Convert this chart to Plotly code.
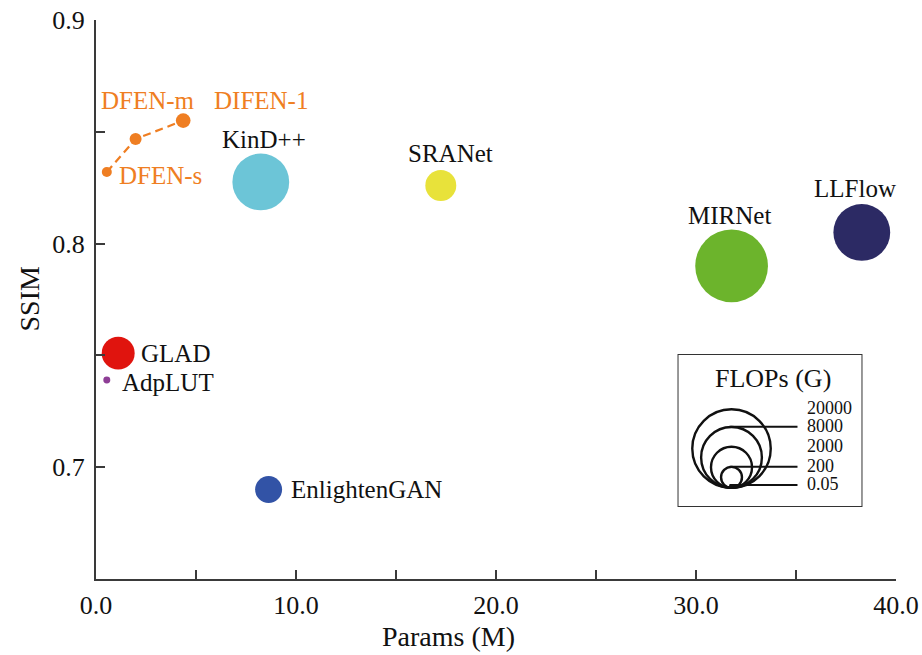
import plotly.graph_objects as go

# Methods compared: parameter count (M), SSIM and FLOPs (G)
methods = ["KinD++", "SRANet", "MIRNet", "LLFlow", "GLAD", "AdpLUT", "EnlightenGAN"]
params = [8.24, 17.24, 31.78, 38.29, 1.11, 0.54, 8.63]
ssim = [0.8276, 0.826, 0.790, 0.805, 0.751, 0.739, 0.690]
flops = [5400, 570, 13500, 5400, 715, 2.3, 342]
colors = ["#6CC5D7", "#E8E23A", "#6CB42C", "#2C2A64", "#E0140E", "#8E3E96", "#3253A6"]

# Proposed model family
dfen_names = ["DFEN-s", "DFEN-m", "DIFEN-1"]
dfen_params = [0.54, 1.98, 4.36]
dfen_ssim = [0.832, 0.8468, 0.855]
dfen_flops = [8.7, 17, 36]
dfen_color = "#EF7E22"

# Bubble-size legend
legend_flops = [20000, 8000, 2000, 200, 0.05]
legend_labels = ["20000", "8000", "2000", "200", "0.05"]
legend_with_leader = ["8000", "200", "0.05"]

x_ticks = [0, 5, 10, 15, 20, 25, 30, 35, 40]
x_ticktext = ["0.0", "", "10.0", "", "20.0", "", "30.0", "", "40.0"]
y_ticks = [0.7, 0.75, 0.8, 0.85, 0.9]
y_ticktext = ["0.7", "", "0.8", "", "0.9"]
x_title = "Params (M)"
y_title = "SSIM"

FONT = "Liberation Serif"
AXIS_COLOR = "#3a3a3a"
TEXT_COLOR = "#111111"


def bubble_diameter(f):
    """Marker diameter in pixels for a FLOPs value."""
    return max(5.0, 5.58 * f ** 0.27)


fig = go.Figure()

# Other methods as bubbles
fig.add_trace(go.Scatter(
    x=params, y=ssim, mode="markers",
    marker=dict(size=[bubble_diameter(f) for f in flops], color=colors,
                line=dict(width=0), opacity=1),
    hoverinfo="text", text=methods, showlegend=False,
))

# Proposed family joined by a dashed line
fig.add_trace(go.Scatter(
    x=dfen_params, y=dfen_ssim, mode="lines+markers",
    line=dict(color=dfen_color, width=2.2, dash="8px,5px"),
    marker=dict(size=[bubble_diameter(f) for f in dfen_flops], color=dfen_color,
                line=dict(width=0), opacity=1),
    hoverinfo="text", text=dfen_names, showlegend=False,
))

# Point labels: (xshift, yshift, anchor) in pixels relative to each point
label_offsets = {
    "KinD++": (3, 42, "center"),
    "SRANet": (10, 32, "center"),
    "MIRNet": (-2, 50, "center"),
    "LLFlow": (-7, 44, "center"),
    "GLAD": (21, 0, "left"),
    "AdpLUT": (13, -2, "left"),
    "EnlightenGAN": (20, 0, "left"),
}
annotations = []
for name, px, sy in zip(methods, params, ssim):
    dx, dy, anchor = label_offsets[name]
    annotations.append(dict(
        x=px, y=sy, xref="x", yref="y", text=name, showarrow=False,
        xshift=dx, yshift=dy, xanchor=anchor, yanchor="middle",
        font=dict(family=FONT, size=25, color=TEXT_COLOR),
    ))

dfen_offsets = {
    "DFEN-s": (10, -3, "left"),
    "DFEN-m": (12, 38, "center"),
    "DIFEN-1": (78, 20, "center"),
}
for name, px, sy in zip(dfen_names, dfen_params, dfen_ssim):
    dx, dy, anchor = dfen_offsets[name]
    annotations.append(dict(
        x=px, y=sy, xref="x", yref="y", text=name, showarrow=False,
        xshift=dx, yshift=dy, xanchor=anchor, yanchor="middle",
        font=dict(family=FONT, size=25, color=dfen_color),
    ))

# Axis titles
annotations.append(dict(
    x=0.44, y=0, xref="paper", yref="paper", text=x_title, showarrow=False,
    xanchor="center", yanchor="middle", yshift=-57,
    font=dict(family=FONT, size=28, color=TEXT_COLOR),
))
annotations.append(dict(
    x=0, y=0.5, xref="paper", yref="paper", text=y_title, showarrow=False,
    xanchor="center", yanchor="middle", xshift=-67, textangle=-90,
    font=dict(family=FONT, size=28, color=TEXT_COLOR),
))

# Size legend drawn in its own pixel-unit inset axes
shapes = []
box_w, box_h = 185, 153
cx, base = 54, 18
shapes.append(dict(type="rect", xref="x2", yref="y2", x0=0, y0=0, x1=box_w, y1=box_h,
                   line=dict(color="#333333", width=2), fillcolor="rgba(0,0,0,0)"))
for f, lab in zip(legend_flops, legend_labels):
    d = bubble_diameter(f)
    r = d / 2 - 1.2
    shapes.append(dict(type="circle", xref="x2", yref="y2",
                       x0=cx - r, x1=cx + r, y0=base + 1.2, y1=base + 1.2 + 2 * r,
                       line=dict(color=TEXT_COLOR, width=2.4), fillcolor="rgba(0,0,0,0)"))
    top = base + d
    if lab in legend_with_leader:
        shapes.append(dict(type="line", xref="x2", yref="y2",
                           x0=cx - 2, x1=120, y0=top - 1, y1=top - 1,
                           line=dict(color=TEXT_COLOR, width=2)))
    annotations.append(dict(
        x=128, y=top, xref="x2", yref="y2", text=lab, showarrow=False,
        xanchor="left", yanchor="middle",
        font=dict(family=FONT, size=18, color=TEXT_COLOR),
    ))
annotations.append(dict(
    x=box_w / 2 + 3, y=box_h - 24, xref="x2", yref="y2", text="FLOPs (G)", showarrow=False,
    xanchor="center", yanchor="middle",
    font=dict(family=FONT, size=26, color=TEXT_COLOR),
))

fig.update_layout(
    width=922, height=655,
    margin=dict(l=96, r=26, t=20, b=76),
    paper_bgcolor="white", plot_bgcolor="white",
    font=dict(family=FONT, size=26, color=TEXT_COLOR),
    xaxis=dict(
        range=[0, 40], tickvals=x_ticks, ticktext=x_ticktext,
        ticks="inside", ticklen=9, tickwidth=1.5, tickcolor=AXIS_COLOR,
        showline=True, linecolor=AXIS_COLOR, linewidth=2,
        showgrid=False, zeroline=False, automargin=False,
        tickfont=dict(size=26), ticklabelstandoff=2,
    ),
    yaxis=dict(
        range=[0.65, 0.9], tickvals=y_ticks, ticktext=y_ticktext,
        ticks="inside", ticklen=9, tickwidth=1.5, tickcolor=AXIS_COLOR,
        showline=True, linecolor=AXIS_COLOR, linewidth=2,
        showgrid=False, zeroline=False, automargin=False,
        tickfont=dict(size=26), ticklabelstandoff=4,
    ),
    xaxis2=dict(domain=[0.7269, 0.9581], range=[0, box_w], anchor="y2",
                visible=False, fixedrange=True),
    yaxis2=dict(domain=[0.1288, 0.4025], range=[0, box_h], anchor="x2",
                visible=False, fixedrange=True),
    shapes=shapes,
    annotations=annotations,
    showlegend=False,
)

fig.write_html("out.html")
